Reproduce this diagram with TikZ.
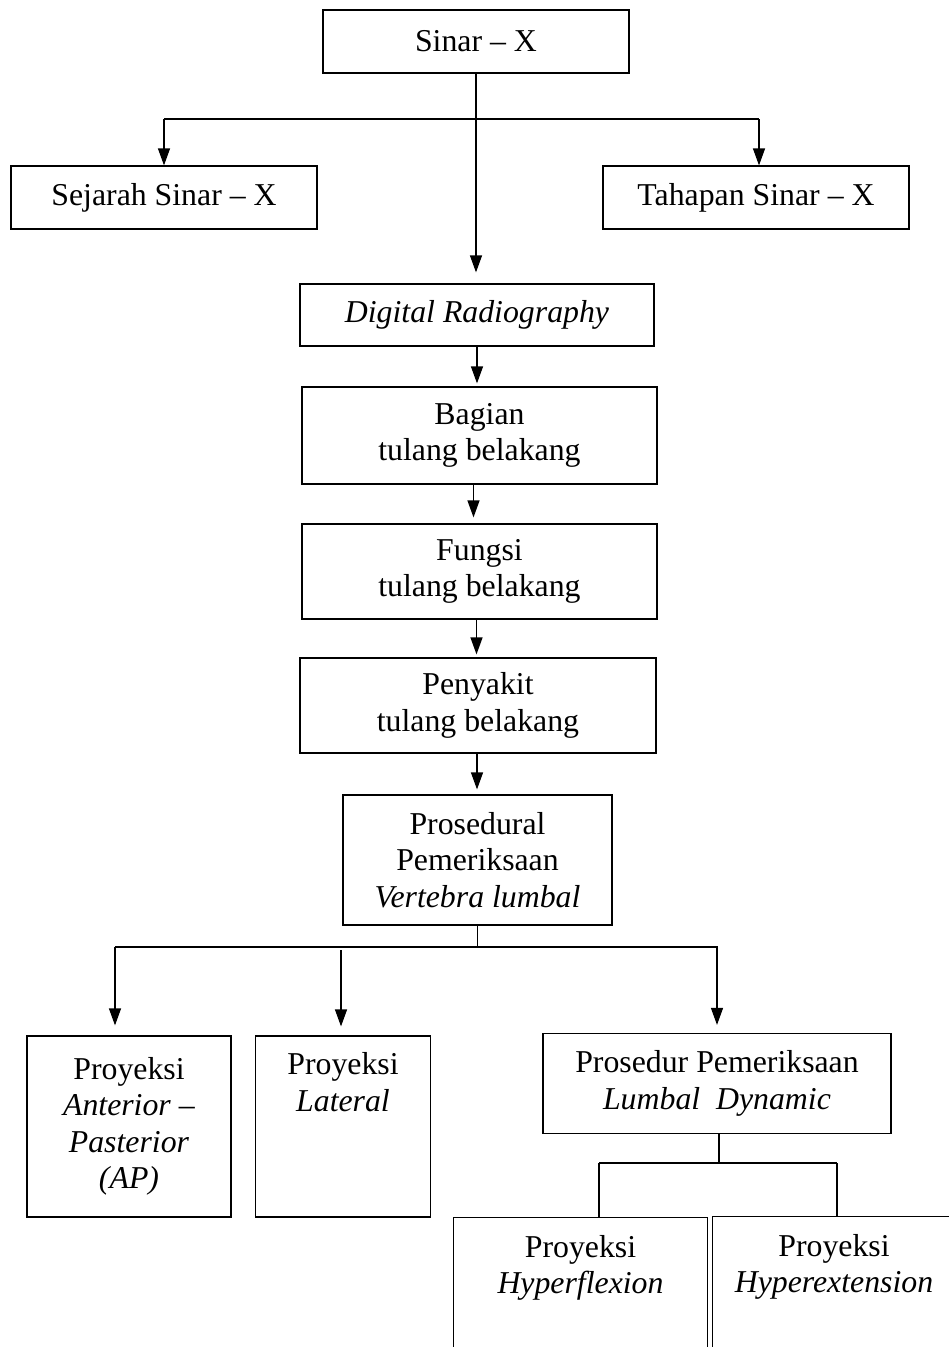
\documentclass[tikz,border=0pt]{standalone}
\usepackage{fontspec}
\setmainfont{Liberation Serif}
\usetikzlibrary{arrows.meta,calc}
\begin{document}
\begin{tikzpicture}[x=1pt,y=-1pt,
  every node/.style={font=\fontsize{31.8}{36.5}\selectfont, align=center},
  box/.style={draw, line width=1.2pt, inner sep=0pt},
  txt/.style={inner sep=0pt},
  ln/.style={line width=1.2pt},
  arr/.style={line width=1.2pt, -{Triangle[length=17pt,width=12pt]}}]
\fill[white] (0,0) rectangle (949,1347);
\useasboundingbox (0,0) rectangle (949,1347);

% top level
\node[box, minimum width=306pt, minimum height=63pt] (sinar) at (476,41.5) {Sinar -- X};
\node[box, minimum width=306pt, minimum height=63pt] (sej) at (164,197.5) {Sejarah Sinar -- X};
\node[box, minimum width=306pt, minimum height=63pt] (tah) at (756,197.5) {Tahapan Sinar -- X};

% middle column
\node[box, minimum width=354pt, minimum height=62pt] (dig) at (477,315) {\textit{Digital Radiography}};
\node[box, minimum width=355pt, minimum height=97pt] (bag) at (479.5,435.5) {Bagian\\tulang belakang};
\node[box, minimum width=355pt, minimum height=95pt] (fun) at (479.5,571.5) {Fungsi\\tulang belakang};
\node[box, minimum width=356pt, minimum height=95pt] (pen) at (478,705.5) {Penyakit\\tulang belakang};
\node[box, minimum width=269pt, minimum height=130pt] (pros) at (477.5,860) {Prosedural\\Pemeriksaan\\\textit{Vertebra lumbal}};

% lower row
\node[box, minimum width=204pt, minimum height=181pt] (ap) at (129,1126.5) {Proyeksi\\\textit{Anterior --}\\\textit{Pasterior}\\\textit{(AP)}};
\node[box, minimum width=175pt, minimum height=181pt] (lat) at (343,1126.5) {};
\node[txt, anchor=north] (latt) at ([yshift=-17pt]lat.north) {Proyeksi\\\textit{Lateral}};
\node[box, minimum width=348pt, minimum height=100pt] (pd) at (717,1083.5) {Prosedur Pemeriksaan\\\textit{Lumbal\ \ Dynamic}};

% bottom open boxes
\node[inner sep=0pt, minimum width=253pt, minimum height=129pt] (hf) at (580.5,1282.5) {};
\draw[ln] (hf.south west) -- (hf.north west) -- (hf.north east) -- (hf.south east);
\node[txt, anchor=north] (hft) at ([yshift=-17pt]hf.north) {Proyeksi\\\textit{Hyperflexion}};
\node[inner sep=0pt, minimum width=242pt, minimum height=130pt] (he) at (834,1282) {};
\draw[ln] (he.south west) -- (he.north west) -- (he.north east);
\node[txt, anchor=north] (het) at ([yshift=-17pt]he.north) {Proyeksi\\\textit{Hyperextension}};

% connectors top
\coordinate (b1) at (sinar.south |- 0,119);
\draw[arr, shorten >=11pt] (sinar.south) -- (sinar.south |- dig.north);
\draw[ln] (sej.north |- b1) -- ([xshift=3pt]tah.north |- b1);
\draw[arr] (sej.north |- b1) -- (sej.north);
\draw[arr] ([xshift=3pt]tah.north |- b1) -- ([xshift=3pt]tah.north);

% middle column connectors
\draw[arr, shorten >=3pt] (dig.south) -- (dig.south |- bag.north);
\draw[arr, shorten >=6pt] ([xshift=-6pt]bag.south) -- ([xshift=-6pt]bag.south |- fun.north);
\draw[arr, shorten >=3pt] ([xshift=-3pt]fun.south) -- ([xshift=-3pt]fun.south |- pen.north);
\draw[arr, shorten >=5pt] ([xshift=-1pt]pen.south) -- ([xshift=-1pt]pen.south |- pros.north);

% lower branch
\coordinate (b2) at (pros.south |- 0,947);
\coordinate (l1) at (115,947);
\coordinate (l3) at (718,947);
\draw[ln] (pros.south) -- (b2);
\draw[ln] (l1) -- (l3);
\draw[arr, shorten >=10pt] (l1) -- (l1 |- ap.north);
\draw[arr, shorten >=9pt] ([xshift=-2pt]lat.north |- 0,950) -- ([xshift=-2pt]lat.north);
\draw[arr, shorten >=8pt] (pd.north |- l3) -- (pd.north);

% bottom branch
\coordinate (b3) at ([xshift=2pt]pd.south |- 0,1163);
\draw[ln] ([xshift=2pt]pd.south) -- (b3);
\draw[ln] ([xshift=18.5pt]hf.north |- b3) -- ([xshift=3pt]he.north |- b3);
\draw[ln] ([xshift=18.5pt]hf.north |- b3) -- ([xshift=18.5pt]hf.north);
\draw[ln] ([xshift=3pt]he.north |- b3) -- ([xshift=3pt]he.north);
\end{tikzpicture}
\end{document}
